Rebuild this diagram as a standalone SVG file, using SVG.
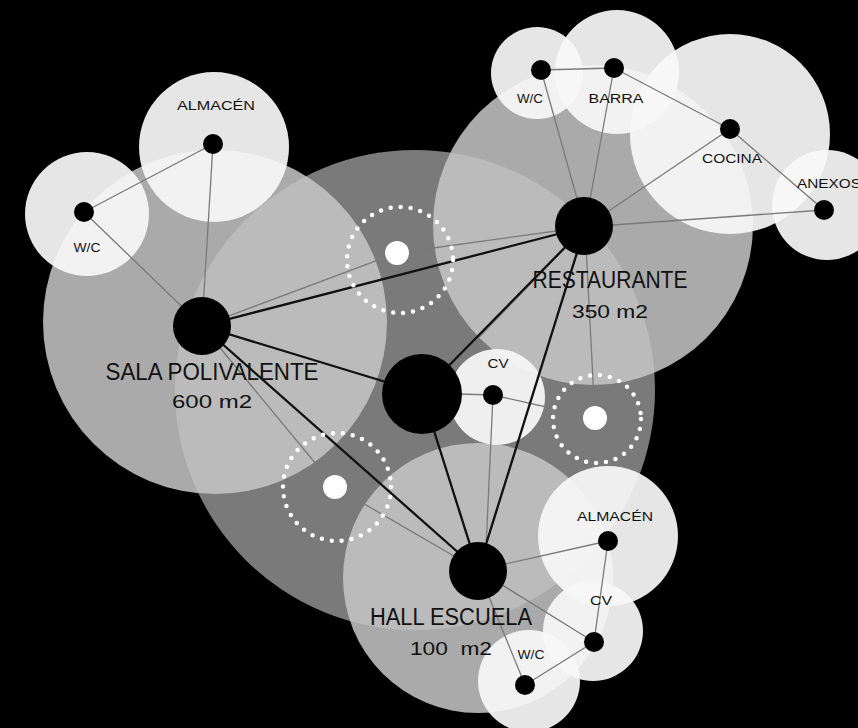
<svg xmlns="http://www.w3.org/2000/svg" width="858" height="728" viewBox="0 0 858 728">
<style>
.zone{fill:#c6c6c6;fill-opacity:0.86}
.sub{fill:#f8f8f8;fill-opacity:0.93}
.dot{fill:#000}
.wdot{fill:#fff}
.ring{fill:none;stroke:#fff;stroke-width:4.5;stroke-linecap:round;stroke-dasharray:0 10}
.thin{stroke:#7a7a7a;stroke-width:1.3;fill:none}
.thick{stroke:#111;stroke-width:2.3;fill:none}
.big{font-family:"Liberation Sans",Arial,sans-serif;font-size:23px;fill:#111;text-anchor:middle}
.area{font-family:"Liberation Sans",Arial,sans-serif;font-size:19px;fill:#111;text-anchor:middle}
.lbl{font-family:"Liberation Sans",Arial,sans-serif;font-size:12px;fill:#111;text-anchor:middle}
</style>
<rect width="858" height="728" fill="#000"/>
<circle id="core" cx="415" cy="390" r="240" fill="#7a7a7a"/>
<g id="zones">
<circle class="zone" cx="215" cy="322" r="172"/>
<circle class="zone" cx="593" cy="225" r="160"/>
<circle class="zone" cx="478" cy="578" r="135"/>
</g>
<g id="subzones">
<circle class="sub" cx="214" cy="147" r="75"/>
<circle class="sub" cx="87" cy="214" r="62"/>
<circle class="sub" cx="537" cy="73" r="46"/>
<circle class="sub" cx="617" cy="72" r="62"/>
<circle class="sub" cx="730" cy="134" r="100"/>
<circle class="sub" cx="827" cy="205" r="55"/>
<circle class="sub" cx="497" cy="397" r="48"/>
<circle class="sub" cx="608" cy="536" r="70"/>
<circle class="sub" cx="593" cy="631" r="50"/>
<circle class="sub" cx="529" cy="681" r="51"/>
</g>
<g id="connectors">
<line class="thin" x1="84" y1="212" x2="213" y2="144"/>
<line class="thin" x1="84" y1="212" x2="202" y2="326"/>
<line class="thin" x1="213" y1="144" x2="202" y2="326"/>
<line class="thin" x1="202" y1="326" x2="397" y2="253"/>
<line class="thin" x1="397" y1="253" x2="585" y2="227"/>
<line class="thin" x1="397" y1="253" x2="422" y2="393"/>
<line class="thin" x1="202" y1="326" x2="335" y2="487"/>
<line class="thin" x1="335" y1="487" x2="478" y2="570"/>
<line class="thin" x1="585" y1="227" x2="335" y2="487"/>
<line class="thin" x1="422" y1="393" x2="493" y2="395"/>
<line class="thin" x1="493" y1="395" x2="595" y2="418"/>
<line class="thin" x1="493" y1="395" x2="485" y2="570"/>
<line class="thin" x1="595" y1="418" x2="585" y2="227"/>
<line class="thin" x1="585" y1="227" x2="541" y2="70"/>
<line class="thin" x1="585" y1="227" x2="614" y2="68"/>
<line class="thin" x1="541" y1="70" x2="614" y2="68"/>
<line class="thin" x1="614" y1="68" x2="730" y2="129"/>
<line class="thin" x1="730" y1="129" x2="824" y2="210"/>
<line class="thin" x1="585" y1="227" x2="730" y2="129"/>
<line class="thin" x1="585" y1="227" x2="824" y2="210"/>
<line class="thin" x1="478" y1="570" x2="608" y2="541"/>
<line class="thin" x1="608" y1="541" x2="594" y2="642"/>
<line class="thin" x1="478" y1="570" x2="594" y2="642"/>
<line class="thin" x1="594" y1="642" x2="525" y2="685"/>
<line class="thin" x1="478" y1="570" x2="525" y2="685"/>
<line class="thick" x1="202" y1="326" x2="585" y2="227"/>
<line class="thick" x1="202" y1="326" x2="422" y2="393"/>
<line class="thick" x1="202" y1="326" x2="478" y2="570"/>
<line class="thick" x1="422" y1="393" x2="585" y2="227"/>
<line class="thick" x1="422" y1="393" x2="478" y2="570"/>
<line class="thick" x1="585" y1="227" x2="478" y2="570"/>
</g>
<g id="sala-polivalente"><circle class="dot" cx="202" cy="326" r="29"/>
<text class="big" x="212" y="380" textLength="213" lengthAdjust="spacingAndGlyphs">SALA POLIVALENTE</text>
<text class="area" x="212" y="408" textLength="80" lengthAdjust="spacingAndGlyphs">600 m2</text></g>
<g id="restaurante"><circle class="dot" cx="584" cy="226" r="29"/>
<text class="big" x="610" y="288" textLength="155" lengthAdjust="spacingAndGlyphs">RESTAURANTE</text>
<text class="area" x="610" y="318" textLength="76" lengthAdjust="spacingAndGlyphs">350 m2</text></g>
<g id="hall-escuela"><circle class="dot" cx="478" cy="571" r="29"/>
<text class="big" x="451" y="625" textLength="162" lengthAdjust="spacingAndGlyphs">HALL ESCUELA</text>
<text class="area" x="451" y="655" textLength="82" lengthAdjust="spacingAndGlyphs" xml:space="preserve">100  m2</text></g>
<g id="centro"><circle class="dot" cx="422" cy="394" r="40"/></g>
<g id="almacen-1"><circle class="dot" cx="213" cy="144" r="10"/><text class="lbl" x="216" y="110" textLength="78" lengthAdjust="spacingAndGlyphs">ALMACÉN</text></g>
<g id="wc-1"><circle class="dot" cx="84" cy="212" r="10"/><text class="lbl" x="87" y="252" textLength="27" lengthAdjust="spacingAndGlyphs">W/C</text></g>
<g id="wc-2"><circle class="dot" cx="541" cy="70" r="10"/><text class="lbl" x="530" y="103" textLength="26" lengthAdjust="spacingAndGlyphs">W/C</text></g>
<g id="barra"><circle class="dot" cx="614" cy="68" r="10"/><text class="lbl" x="616" y="103" textLength="55" lengthAdjust="spacingAndGlyphs">BARRA</text></g>
<g id="cocina"><circle class="dot" cx="730" cy="129" r="10"/><text class="lbl" x="732" y="163" textLength="60" lengthAdjust="spacingAndGlyphs">COCINA</text></g>
<g id="anexos"><circle class="dot" cx="824" cy="210" r="10"/><text class="lbl" x="829" y="188" textLength="64" lengthAdjust="spacingAndGlyphs">ANEXOS</text></g>
<g id="cv-1"><circle class="dot" cx="493" cy="395" r="10"/><text class="lbl" x="498" y="368" textLength="21" lengthAdjust="spacingAndGlyphs">CV</text></g>
<g id="almacen-2"><circle class="dot" cx="608" cy="541" r="10"/><text class="lbl" x="615" y="521" textLength="76" lengthAdjust="spacingAndGlyphs">ALMACÉN</text></g>
<g id="cv-2"><circle class="dot" cx="594" cy="642" r="10"/><text class="lbl" x="601" y="605" textLength="22" lengthAdjust="spacingAndGlyphs">CV</text></g>
<g id="wc-3"><circle class="dot" cx="525" cy="685" r="10"/><text class="lbl" x="531" y="659" textLength="27" lengthAdjust="spacingAndGlyphs">W/C</text></g>
<g id="patio-1"><circle class="ring" cx="400" cy="260" r="53"/><circle class="wdot" cx="397" cy="253" r="12"/></g>
<g id="patio-2"><circle class="ring" cx="597" cy="419" r="44"/><circle class="wdot" cx="595" cy="418" r="12"/></g>
<g id="patio-3"><circle class="ring" cx="337" cy="487" r="54"/><circle class="wdot" cx="335" cy="487" r="12"/></g>
</svg>
